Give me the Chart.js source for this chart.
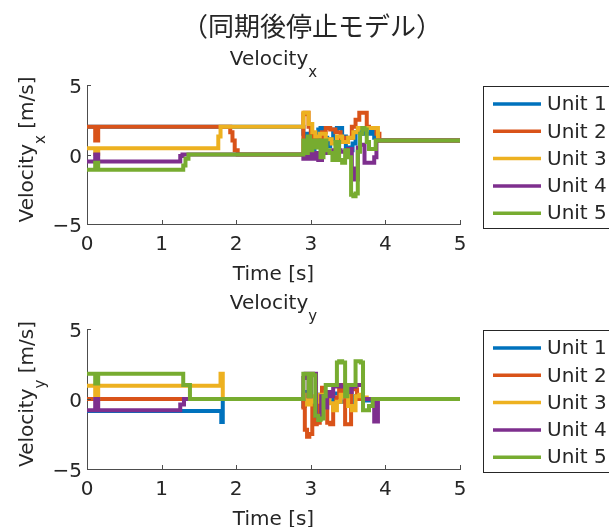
<!DOCTYPE html>
<html>
<head>
<meta charset="utf-8">
<script src="https://cdn.jsdelivr.net/npm/chart.js@4.4.1/dist/chart.umd.min.js"></script>
<style>
  html, body { margin: 0; padding: 0; background: #ffffff; }
  #fig { position: relative; width: 609px; height: 527px; overflow: hidden; background: #ffffff; }
  #fig canvas { position: absolute; left: 0; }
</style>
</head>
<body>
<div id="fig">
  <canvas id="velX" width="609" height="290" style="top:0px"></canvas>
  <canvas id="velY" width="609" height="237" style="top:290px"></canvas>
</div>
<script>
// ---- series data: time [s] and velocity [m/s] for each unit ----
const unitNames = ['Unit 1', 'Unit 2', 'Unit 3', 'Unit 4', 'Unit 5'];
const unitColors = ['#0072BD', '#D95319', '#EDB120', '#7E2F8E', '#77AC30'];
const xTicks = [0, 1, 2, 3, 4, 5];
const yTicks = [-5, 0, 5];

// Velocity x
const tX1 = [0, 2.9, 2.95, 3.0, 3.05, 3.1, 3.13, 3.18, 3.22, 3.26, 3.3, 3.35, 3.42, 3.47, 3.52, 3.56, 3.6, 3.7, 3.8, 3.85, 3.9, 3.93, 5];
const vX1 = [2, 2, 1.5, 0.8, 0.3, 0.6, 1.8, 1.9, 1.2, 0.6, 1.1, 1.8, 1.9, 1.3, 0.5, 0.3, 0.8, 1.6, 1.5, 1.8, 1.2, 1, 1];

const tX2 = [0, 0.11, 0.12, 0.15, 0.16, 1.92, 1.95, 1.98, 2.02, 2.05, 2.9, 2.92, 2.97, 3.0, 3.03, 3.08, 3.15, 3.2, 3.26, 3.33, 3.4, 3.47, 3.55, 3.6, 3.65, 3.7, 3.75, 3.78, 3.82, 3.88, 3.92, 3.95, 5];
const vX2 = [2, 2, 1.0, 1.0, 2, 2, 1.6, 1.0, 0.3, 0, 0, 2.9, 3.0, 2.0, 1.5, 1.2, 1.0, 1.6, 1.9, 1.8, 1.6, 1.0, 1.2, 2.0, 2.5, 3.0, 3.0, 2.0, 1.9, 1.9, 1.5, 1, 1];

const tX3 = [0, 0.11, 0.12, 0.15, 0.16, 1.76, 1.79, 1.82, 2.9, 2.93, 2.97, 3.02, 3.06, 3.12, 3.2, 3.28, 3.35, 3.42, 3.5, 3.57, 3.63, 3.68, 3.9, 3.93, 5];
const vX3 = [0.45, 0.45, 0.05, 0.05, 0.45, 0.45, 1.3, 2.0, 2.0, 3.0, 3.0, 2.2, 1.6, 1.3, 1.5, 1.1, 0.8, 1.3, 0.9, 1.2, 1.6, 1.9, 1.9, 1, 1];

const tX4 = [0, 0.11, 0.12, 0.15, 0.16, 1.25, 1.28, 1.33, 2.9, 2.95, 3.0, 3.05, 3.1, 3.15, 3.2, 3.3, 3.4, 3.5, 3.55, 3.58, 3.6, 3.63, 3.66, 3.72, 3.8, 3.85, 3.88, 3.92, 5];
const vX4 = [-0.5, -0.5, 0, 0, -0.5, -0.5, -0.1, 0, 0, -0.3, 0.2, -0.3, 0.1, -0.4, 0.3, 0.1, 0.3, 0.2, 0.4, -1.0, -1.8, -1.8, 0.5, 0.7, -0.6, -0.6, -0.2, 1, 1];

const tX5 = [0, 0.11, 0.12, 0.15, 0.16, 1.29, 1.32, 1.36, 1.40, 2.9, 2.92, 2.96, 2.99, 3.02, 3.06, 3.09, 3.13, 3.17, 3.21, 3.25, 3.29, 3.33, 3.38, 3.42, 3.46, 3.5, 3.54, 3.57, 3.6, 3.63, 3.66, 3.69, 3.72, 3.75, 3.78, 3.82, 3.87, 3.91, 5];
const vX5 = [-1.1, -1.1, -0.6, -0.6, -1.1, -1.1, -0.8, -0.3, 0, 0, 1.0, 0.1, 1.3, 0.3, 1.0, 0.5, 1.0, -0.2, 1.0, 0.3, 0.1, -0.4, 0.9, -0.4, -0.6, 0.3, -0.2, -2.9, -3.0, -2.8, 0.2, 1.5, 1.9, 1.8, 0.9, 0.4, 0.4, 1, 1];

// Velocity y
const tY1 = [0, 1.8, 1.81, 1.82, 1.83, 2.9, 2.92, 2.95, 3.0, 3.1, 3.2, 3.3, 3.4, 3.5, 3.55, 3.58, 3.62, 3.7, 3.8, 3.9, 5];
const vY1 = [-0.85, -0.85, -1.65, -1.65, 0, 0, -0.5, -0.3, 0.5, -0.3, 0.3, -0.2, 0.4, -0.2, -0.5, -0.4, 0.2, 0.1, -0.1, 0, 0];

const tY2 = [0, 2.9, 2.92, 2.95, 2.98, 3.02, 3.05, 3.08, 3.12, 3.15, 3.18, 3.22, 3.26, 3.3, 3.34, 3.38, 3.42, 3.46, 3.5, 3.54, 3.58, 3.62, 3.66, 3.7, 5];
const vY2 = [0, 0, -0.6, -2.2, -2.7, -2.5, -0.5, -1.8, -1.7, -0.2, 0.8, 0.5, -1.7, -1.8, -0.6, 0.1, 1.0, 0.3, -1.8, -1.8, 0.9, 0.7, 0, 0, 0];

const tY3 = [0, 0.11, 0.12, 0.15, 0.16, 1.79, 1.80, 1.82, 1.83, 2.9, 2.95, 3.0, 3.05, 3.1, 3.15, 3.2, 3.25, 3.3, 3.35, 3.4, 3.45, 3.5, 3.55, 3.6, 3.65, 3.7, 3.75, 3.8, 5];
const vY3 = [0.95, 0.95, 0.05, 0.05, 0.95, 0.95, 1.8, 1.8, 0, 0, 0.3, -0.4, 0.2, -0.2, 0.3, 0.1, 0.5, -0.3, -0.8, -0.2, 0.3, 0.2, -0.5, -0.8, 0.2, 0.3, 0.1, 0, 0];

const tY4 = [0, 0.11, 0.12, 0.15, 0.16, 1.25, 1.3, 1.36, 2.9, 2.93, 2.97, 3.0, 3.03, 3.07, 3.1, 3.14, 3.18, 3.22, 3.26, 3.3, 3.35, 3.4, 3.45, 3.5, 3.55, 3.6, 3.65, 3.7, 3.75, 3.8, 3.85, 3.87, 3.9, 3.92, 5];
const vY4 = [-0.8, -0.8, 0, 0, -0.8, -0.8, -0.4, 0, 0, 1.5, 1.8, 0.2, 1.8, 1.8, -1.2, -1.4, 0.2, -0.6, 0.5, 0.2, 0.9, 1.0, 0.9, 0.9, 0.5, 0.9, 1.0, 1.0, 0, 0, 0, -1.6, -1.6, 0, 0];

const tY5 = [0, 0.11, 0.12, 0.15, 0.16, 1.29, 1.31, 1.38, 1.40, 2.9, 2.92, 2.97, 3.0, 3.03, 3.06, 3.1, 3.13, 3.17, 3.2, 3.23, 3.26, 3.3, 3.35, 3.38, 3.42, 3.46, 3.49, 3.52, 3.56, 3.6, 3.63, 3.67, 3.7, 3.73, 3.78, 3.83, 3.86, 5];
const vY5 = [1.8, 1.8, 1.1, 1.1, 1.8, 1.8, 1.0, 1.0, 0, 0, 1.8, 1.8, 0.2, 1.8, 1.7, -1.2, -1.5, -1.4, 0.2, 1.0, 1.0, 1.0, 1.0, 2.6, 2.7, 2.6, 0.2, 1.0, 1.0, 1.0, 2.7, 2.7, 2.6, -0.8, -0.8, -0.5, 0, 0];

// ---- styling ----
const LATIN = '"DejaVu Sans", sans-serif';
const CJK = '"Noto Sans CJK JP", "Noto Sans CJK SC", sans-serif';
const TEXT_COLOR = '#262626';
const AXIS_COLOR = '#4d4d4d';
const FONT_PX = 20;

function toPoints(ts, vs) {
  return ts.map((t, i) => ({ x: t, y: vs[i] }));
}

function buildDatasets(times, values) {
  return unitNames.map((name, i) => ({
    label: name,
    data: toPoints(times[i], values[i]),
    borderColor: unitColors[i],
    backgroundColor: unitColors[i],
    borderWidth: 4,
    pointRadius: 0,
    stepped: 'after',
    fill: false,
    order: unitNames.length - 1 - i   // later units are drawn on top
  }));
}

// text "main" with a lowered subscript, optional trailing text, centred on cx
function drawSubscripted(ctx, main, sub, rest, cx, baseline, size) {
  const mainFont = size + 'px ' + LATIN;
  const subFont = Math.round(size * 0.75) + 'px ' + LATIN;
  ctx.font = mainFont; const wMain = ctx.measureText(main).width;
  const wRest = rest ? ctx.measureText(rest).width : 0;
  ctx.font = subFont; const wSub = ctx.measureText(sub).width;
  let x = cx - (wMain + wSub + wRest) / 2;
  ctx.textAlign = 'left'; ctx.textBaseline = 'alphabetic';
  ctx.font = mainFont; ctx.fillText(main, x, baseline); x += wMain;
  ctx.font = subFont; ctx.fillText(sub, x, baseline + size * 0.62); x += wSub;
  if (rest) { ctx.font = mainFont; ctx.fillText(rest, x, baseline); }
}

const figurePlugin = {
  id: 'figureDecor',
  afterDraw(chart, args, opts) {
    const ctx = chart.ctx;
    const area = chart.chartArea;
    const xs = chart.scales.x, ys = chart.scales.y;
    ctx.save();

    // inward tick marks
    ctx.strokeStyle = AXIS_COLOR; ctx.lineWidth = 1;
    ctx.beginPath();
    xs.ticks.forEach(t => {
      const px = Math.round(xs.getPixelForValue(t.value)) + 0.5;
      ctx.moveTo(px, area.bottom); ctx.lineTo(px, area.bottom - 4);
    });
    ys.ticks.forEach(t => {
      const py = Math.round(ys.getPixelForValue(t.value)) + 0.5;
      ctx.moveTo(area.left, py); ctx.lineTo(area.left + 4, py);
    });
    ctx.stroke();

    ctx.fillStyle = TEXT_COLOR;
    const cx = (area.left + area.right) / 2;

    // figure title
    if (opts.figureTitle) {
      ctx.font = '26px ' + CJK;
      ctx.textAlign = 'center'; ctx.textBaseline = 'middle';
      ctx.fillText(opts.figureTitle, opts.figureTitleX, opts.figureTitleY);
    }

    // axes title
    drawSubscripted(ctx, 'Velocity', opts.component, '', cx, area.top - 20, FONT_PX);

    // x label
    ctx.font = FONT_PX + 'px ' + LATIN;
    ctx.textAlign = 'center'; ctx.textBaseline = 'alphabetic';
    ctx.fillText('Time [s]', cx, area.bottom + 56);

    // y label (rotated)
    ctx.save();
    ctx.translate(33, (area.top + area.bottom) / 2 - 5);
    ctx.rotate(-Math.PI / 2);
    drawSubscripted(ctx, 'Velocity', opts.component, ' [m/s]', 0, 0, FONT_PX);
    ctx.restore();

    // legend box
    const boxL = 483.5, boxT = Math.round(area.top) + 1.5, boxH = 142;
    ctx.fillStyle = '#ffffff';
    ctx.fillRect(boxL, boxT, 200, boxH);
    ctx.strokeStyle = '#262626'; ctx.lineWidth = 1;
    ctx.strokeRect(boxL, boxT, 200, boxH);
    ctx.font = FONT_PX + 'px ' + LATIN;
    ctx.textAlign = 'left'; ctx.textBaseline = 'middle';
    chart.data.datasets.forEach((ds, i) => {
      const y = boxT + 17.5 + i * 27.3;
      ctx.strokeStyle = ds.borderColor; ctx.lineWidth = 3.5;
      ctx.beginPath(); ctx.moveTo(493, y); ctx.lineTo(541, y); ctx.stroke();
      ctx.fillStyle = TEXT_COLOR;
      ctx.fillText(ds.label, 547, y + 1);
    });

    ctx.restore();
  }
};

function makeChart(canvasId, datasets, padTop, xAxisHeight, decor) {
  return new Chart(document.getElementById(canvasId), {
    type: 'line',
    data: { datasets },
    plugins: [figurePlugin],
    options: {
      responsive: false,
      animation: false,
      events: [],
      layout: { padding: { left: 0, top: padTop, right: 149, bottom: 0 } },
      plugins: {
        legend: { display: false },
        title: { display: false },
        tooltip: { enabled: false },
        figureDecor: decor
      },
      scales: {
        x: {
          type: 'linear', min: 0, max: 5,
          afterBuildTicks: s => { s.ticks = xTicks.map(v => ({ value: v })); },
          ticks: { color: TEXT_COLOR, font: { family: LATIN, size: FONT_PX }, padding: 9, maxRotation: 0, autoSkip: false },
          grid: { display: false, drawTicks: false },
          border: { display: true, color: AXIS_COLOR, width: 1 },
          afterFit: s => { s.height = xAxisHeight; }
        },
        y: {
          type: 'linear', min: -5, max: 5,
          afterBuildTicks: s => { s.ticks = yTicks.map(v => ({ value: v })); },
          ticks: {
            color: TEXT_COLOR, font: { family: LATIN, size: FONT_PX }, padding: 5, labelOffset: 3,
            callback: v => (v < 0 ? '\u2212' + Math.abs(v) : String(v))
          },
          grid: { display: false, drawTicks: false },
          border: { display: true, color: AXIS_COLOR, width: 1 },
          afterFit: s => { s.width = 87; }
        }
      }
    }
  });
}

makeChart('velX',
  buildDatasets([tX1, tX2, tX3, tX4, tX5], [vX1, vX2, vX3, vX4, vX5]),
  85, 66,
  { component: 'x', figureTitle: '（同期後停止モデル）', figureTitleX: 312, figureTitleY: 26 });

makeChart('velY',
  buildDatasets([tY1, tY2, tY3, tY4, tY5], [vY1, vY2, vY3, vY4, vY5]),
  39, 58,
  { component: 'y' });
</script>
</body>
</html>
